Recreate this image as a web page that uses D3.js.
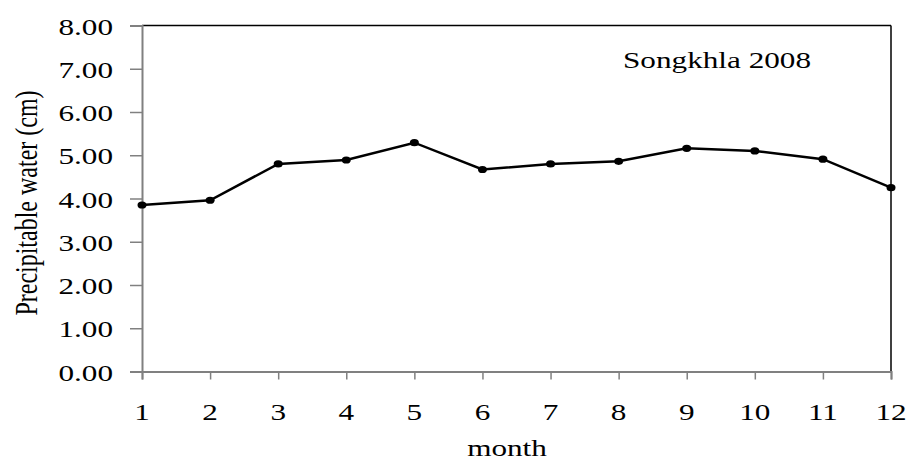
<!DOCTYPE html>
<html>
<head>
<meta charset="utf-8">
<script src="https://cdn.jsdelivr.net/npm/d3@7"></script>
<style>
  html, body { margin: 0; padding: 0; background: #fff; }
  svg { display: block; }
</style>
</head>
<body>
<svg id="chart" width="910" height="463"></svg>
<script>
// Monthly precipitable water, Songkhla 2008
const months = [1, 2, 3, 4, 5, 6, 7, 8, 9, 10, 11, 12];
const precipWater = [3.85, 3.96, 4.80, 4.89, 5.29, 4.67, 4.80, 4.86, 5.16, 5.10, 4.91, 4.25];
const yTicks = [0, 1, 2, 3, 4, 5, 6, 7, 8];
const titleText = "Songkhla 2008";
const xLabel = "month";
const yLabel = "Precipitable water (cm)";

const svg = d3.select("#chart");
const margin = { left: 142, right: 19, top: 25.5, bottom: 91.5 };
const W = 910, H = 463;
const x0 = margin.left, x1 = W - margin.right;
const y0 = H - margin.bottom, y1 = margin.top;

const x = d3.scaleLinear().domain([1, 12]).range([x0, x1]);
const y = d3.scaleLinear().domain([0, 8]).range([y0, y1]);

const fontFamily = '"Liberation Serif", "Times New Roman", serif';
const fontSize = 24;
const stretch = 1.3; // wide serif lettering

// Helper: place stretched text at a point
function label(px, py, txt, anchor, rotate) {
  const g = svg.append("g")
    .attr("transform", `translate(${px},${py})` + (rotate ? ` rotate(${rotate})` : ""));
  g.append("text")
    .attr("transform", rotate ? `scale(1,${stretch})` : `scale(${stretch},1)`)
    .attr("text-anchor", anchor)
    .attr("font-family", fontFamily)
    .attr("font-size", fontSize)
    .attr("fill", "#000")
    .text(txt);
  return g;
}

// Top and right frame lines
svg.append("line").attr("x1", x0).attr("x2", x1).attr("y1", y1).attr("y2", y1)
  .attr("stroke", "#000").attr("stroke-width", 1.5);
svg.append("line").attr("x1", x1).attr("x2", x1).attr("y1", y1).attr("y2", y0)
  .attr("stroke", "#000").attr("stroke-width", 1.5);

// Y axis
const yAxis = d3.axisLeft(y).tickValues(yTicks).tickSize(12).tickFormat("");
const gy = svg.append("g").attr("transform", `translate(${x0},0)`).call(yAxis);
gy.select(".domain").attr("stroke", "#808080").attr("stroke-width", 2);
gy.selectAll(".tick line").attr("stroke", "#808080").attr("stroke-width", 1.5);
yTicks.forEach(v => label(113, y(v) + 9, d3.format(".2f")(v), "end"));

// X axis
const xAxis = d3.axisBottom(x).tickValues(months).tickSize(8).tickFormat("");
const gx = svg.append("g").attr("transform", `translate(0,${y0})`).call(xAxis);
gx.select(".domain").attr("stroke", "#808080").attr("stroke-width", 2);
gx.selectAll(".tick line").attr("stroke", "#808080").attr("stroke-width", 1.5);
months.forEach(m => label(x(m), 420, String(m), "middle"));

// Axis titles
label(507, 456, xLabel, "middle");
label(37, 203, yLabel, "middle", -90);

// Chart label
label(623, 68, titleText, "start");

// Data line and markers
const pts = months.map((m, i) => [m, precipWater[i]]);
svg.append("path")
  .datum(pts)
  .attr("fill", "none")
  .attr("stroke", "#000")
  .attr("stroke-width", 2.5)
  .attr("d", d3.line().x(d => x(d[0])).y(d => y(d[1])));

svg.selectAll("ellipse.pt")
  .data(pts)
  .join("ellipse")
  .attr("class", "pt")
  .attr("cx", d => x(d[0]))
  .attr("cy", d => y(d[1]))
  .attr("rx", 4.5)
  .attr("ry", 3.6)
  .attr("fill", "#000");
</script>
</body>
</html>
